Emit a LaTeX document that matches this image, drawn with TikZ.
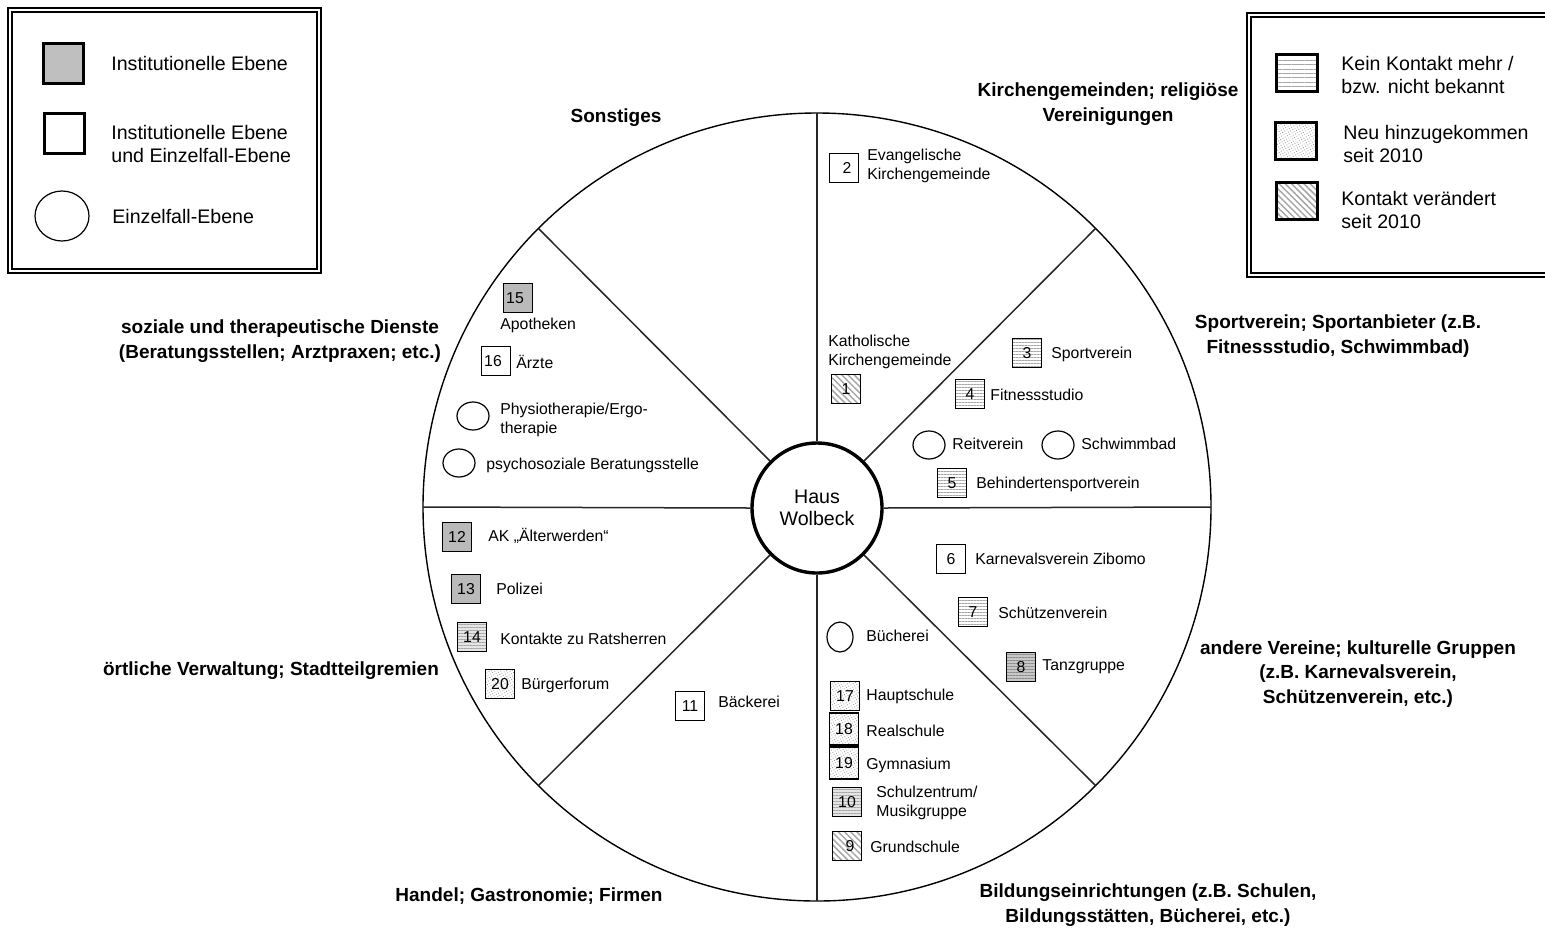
\documentclass[tikz,border=0pt]{standalone}
\usepackage{fontspec}
\setmainfont{Liberation Sans}
\usetikzlibrary{shapes.geometric,patterns.meta,calc}
\begin{document}
\begin{tikzpicture}[x=0.5pt,y=-0.5pt,
  itm/.style={font=\fontsize{7.9}{9.4}\selectfont, anchor=west, inner sep=0pt, align=left},
  lgt/.style={font=\fontsize{9.8}{11.5}\selectfont, anchor=west, inner sep=0pt, align=left},
  cat/.style={font=\bfseries\fontsize{9.5}{12.2}\selectfont, align=center, inner sep=0pt},
  bx/.style={draw, line width=0.7pt, minimum size=14.5pt, inner sep=0pt, font=\fontsize{7.9}{9}\selectfont},
  inst/.style={bx, fill=black!27},
  hl/.style={pattern={Lines[angle=0,distance=1.5pt,line width=0.35pt]}, pattern color=black!35},
  hlg/.style={preaction={fill=black!22}, pattern={Lines[angle=0,distance=1.5pt,line width=0.35pt]}, pattern color=black!45},
  hll/.style={preaction={fill=black!10}, pattern={Lines[angle=0,distance=1.5pt,line width=0.35pt]}, pattern color=black!35},
  hl2/.style={pattern={Lines[angle=0,distance=2.2pt,line width=0.4pt]}, pattern color=black!35},
  dt/.style={pattern={Dots[distance=1.3pt,radius=0.28pt,angle=30]}, pattern color=black!40},
  dg/.style={pattern={Lines[angle=-45,distance=2.2pt,line width=0.75pt]}, pattern color=black!35},
  ov/.style={draw, ellipse, line width=0.6pt, minimum width=16pt, minimum height=14pt, inner sep=0pt},
  lbx/.style={draw, line width=1.5pt, minimum size=20pt, inner sep=0pt},
  lbx2/.style={draw, line width=1.5pt, minimum width=20.5pt, minimum height=18.5pt, inner sep=0pt},
  spoke/.style={line width=0.75pt, draw=black!85}
]
\useasboundingbox (0,0) rectangle (1545,927);

% ---------- legend 1 ----------
\draw[line width=1pt] (8,8) rectangle (321,273);
\draw[line width=0.6pt] (12,12) rectangle (317,269);
\node[lbx, fill=black!25] (l1) at (63,63) {};
\node[lgt] (l1t) at (111,63) {Institutionelle Ebene};
\node[lbx] (l2) at (64,133) {};
\node[lgt] (l2t) at (111,144) {Institutionelle Ebene\\und Einzelfall-Ebene};
\node[ov, minimum width=27pt, minimum height=25pt] (l3) at (62,216) {};
\node[lgt] (l3t) at (112,216) {Einzelfall-Ebene};

% ---------- legend 2 ----------
\begin{scope}
\clip (0,0) rectangle (1545,927);
\draw[line width=1pt] (1247,13) rectangle (1560,277);
\draw[line width=0.6pt] (1251,17) rectangle (1556,273);
\end{scope}
\node[lbx2, hl2] (k1) at (1297,73) {};
\node[lgt] (k1t) at (1341,75) {Kein Kontakt mehr /\\bzw. nicht bekannt};
\node[lbx2, dt] (k2) at (1296,141) {};
\node[lgt] (k2t) at (1343,144) {Neu hinzugekommen\\seit 2010};
\node[lbx2, dg] (k3) at (1297,201) {};
\node[lgt] (k3t) at (1341,210) {Kontakt verändert\\seit 2010};

% ---------- wheel ----------
\draw[line width=0.7pt] (817,507) circle [radius=394];
\node[circle, draw, line width=1.7pt, minimum size=65pt, inner sep=0pt, align=center,
      font=\fontsize{9.8}{11.2}\selectfont, fill=white] (hub) at (817,508) {Haus\\Wolbeck};
\foreach \a [count=\i] in {0,45,...,315}{
  \coordinate (o\i) at ($(817,507)+(-\a:394)$);
  \draw[spoke] (hub.\a) -- (o\i);
}

% ---------- category labels ----------
\node[cat] (c1) at (616,118) {Sonstiges};
\node[cat] (c2) at (1108,104) {Kirchengemeinden; religiöse\\Vereinigungen};
\node[cat] (c3) at (1338,336) {Sportverein; Sportanbieter (z.B.\\Fitnessstudio, Schwimmbad)};
\node[cat] (c4) at (1358,674) {andere Vereine; kulturelle Gruppen\\(z.B. Karnevalsverein,\\Schützenverein, etc.)};
\node[cat] (c5) at (1148,905) {Bildungseinrichtungen (z.B. Schulen,\\Bildungsstätten, Bücherei, etc.)};
\node[cat] (c6) at (529,896) {Handel; Gastronomie; Firmen};
\node[cat] (c7) at (271,671) {örtliche Verwaltung; Stadtteilgremien};
\node[cat] (c8) at (280,341) {soziale und therapeutische Dienste\\(Beratungsstellen; Arztpraxen; etc.)};

% ---------- Kirchengemeinden ----------
\node[bx] (b2) at (844,168) {\hspace*{3pt}2};
\node[itm] (t2) at (867,166) {Evangelische\\Kirchengemeinde};
\node[itm] (t1) at (828,352) {Katholische\\Kirchengemeinde};
\node[bx, dg] (b1) at (846,389) {1};

% ---------- Sport ----------
\node[bx, hl] (b3) at (1027,353) {3};
\node[itm] (t3) at (1051,354) {Sportverein};
\node[bx, hl] (b4) at (970,394) {4};
\node[itm] (t4) at (990,395) {Fitnessstudio};
\node[ov] (e1) at (929,445) {};
\node[itm] (te1) at (952,444) {Reitverein};
\node[ov] (e2) at (1058,445) {};
\node[itm] (te2) at (1081,444) {Schwimmbad};
\node[bx, hl] (b5) at (952,483) {5};
\node[itm] (t5) at (976,484) {Behindertensportverein};

% ---------- andere Vereine ----------
\node[bx] (b6) at (951,559) {6};
\node[itm] (t6) at (975,559) {Karnevalsverein Zibomo};
\node[bx, hl] (b7) at (973,612) {7};
\node[itm] (t7) at (998,613) {Schützenverein};
\node[bx, hlg] (b8) at (1021,667) {8};
\node[itm] (t8) at (1042,667) {Tanzgruppe};

% ---------- Bildung ----------
\node[ov, minimum width=13pt, minimum height=15pt] (e3) at (840,637) {};
\node[itm] (te3) at (866,636) {Bücherei};
\node[bx, dt] (b17) at (845,696) {17};
\node[itm] (t17) at (866,696) {Hauptschule};
\node[bx, dt, minimum height=16pt] (b18) at (844,729) {18};
\node[itm] (t18) at (866,731) {Realschule};
\node[bx, dt, minimum height=16pt] (b19) at (844,763) {19};
\node[itm] (t19) at (866,765) {Gymnasium};
\node[bx, hll] (b10) at (847,802) {10};
\node[itm] (t10) at (876,803) {Schulzentrum/\\Musikgruppe};
\node[bx, dg] (b9) at (847,846) {\hspace*{3pt}9};
\node[itm] (t9) at (870,847) {Grundschule};

% ---------- Handel ----------
\node[bx] (b11) at (690,706) {11};
\node[itm] (t11) at (718,702) {Bäckerei};

% ---------- Verwaltung ----------
\node[inst] (b12) at (457,537) {12};
\node[itm] (t12) at (488,536) {AK „Älterwerden“};
\node[inst] (b13) at (466,589) {13};
\node[itm] (t13) at (496,589) {Polizei};
\node[bx, hll] (b14) at (472,637) {14};
\node[itm] (t14) at (500,639) {Kontakte zu Ratsherren};
\node[bx, dt] (b20) at (500,684) {20};
\node[itm] (t20) at (521,685) {Bürgerforum};

% ---------- soziale Dienste ----------
\node[inst] (b15) at (518,298) {15\hspace*{3pt}};
\node[itm] (t15) at (500,325) {Apotheken};
\node[bx] (b16) at (496,361) {16\hspace*{3pt}};
\node[itm] (t16) at (516,362) {Ärzte};
\node[ov] (e4) at (473,416) {};
\node[itm] (te4) at (500,420) {Physiotherapie/Ergo-\\therapie};
\node[ov] (e5) at (459,463) {};
\node[itm] (te5) at (486,465) {psychosoziale Beratungsstelle};

\end{tikzpicture}
\end{document}
